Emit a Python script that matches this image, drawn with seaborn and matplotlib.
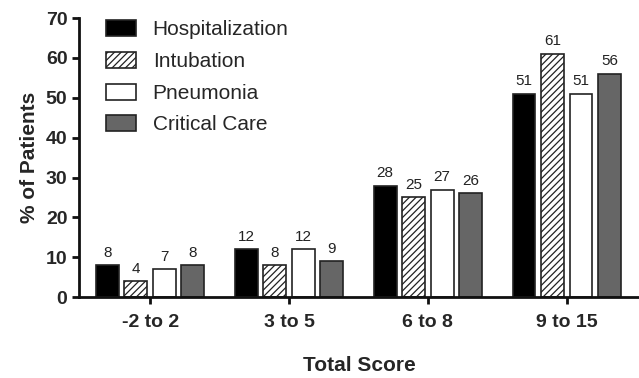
import seaborn as sns
import matplotlib.pyplot as plt
import pandas as pd

groups = ['-2 to 2', '3 to 5', '6 to 8', '9 to 15']
series = ['Hospitalization', 'Intubation', 'Pneumonia', 'Critical Care']
hospitalization = [8, 12, 28, 51]
intubation = [4, 8, 25, 61]
pneumonia = [7, 12, 27, 51]
critical_care = [8, 9, 26, 56]

rows = []
for name, vals in zip(series, [hospitalization, intubation, pneumonia, critical_care]):
    for g, v in zip(groups, vals):
        rows.append({'group': g, 'series': name, 'pct': v})
df = pd.DataFrame(rows)

sns.set_style('ticks')
plt.rcParams['font.family'] = ['Liberation Sans', 'DejaVu Sans']
plt.rcParams['hatch.linewidth'] = 0.9

fig = plt.figure(figsize=(6.39, 3.78), dpi=100)
ax = fig.add_axes([0.124, 0.214, 0.876, 0.738])

colors = ['#000000', '#ffffff', '#ffffff', '#666666']
ax = sns.barplot(data=df, x='group', y='pct', hue='series', hue_order=series,
                 palette=colors, width=0.82, gap=0.2, edgecolor='#222222',
                 linewidth=1.2, ax=ax, legend=False)

for c in ax.containers[1]:
    c.set_hatch('/////')

for cont in ax.containers:
    ax.bar_label(cont, fmt='%d', padding=4, fontsize=11, color='#222222')

handles = [ax.containers[i][0] for i in range(4)]
ax.legend(handles, series, loc='upper left', bbox_to_anchor=(0.014, 1.06),
          frameon=False, fontsize=15, handlelength=1.45, handleheight=0.8,
          labelspacing=0.6, handletextpad=0.8)

ax.set_xlim(-0.51, 3.52)
ax.set_ylim(0, 70)
ax.set_yticks(range(0, 71, 10))
sns.despine(ax=ax)
for s in ['left', 'bottom']:
    ax.spines[s].set_linewidth(2)
    ax.spines[s].set_color('#111111')
ax.tick_params(width=2, length=5, color='#111111')
ax.tick_params(axis='x', pad=7)
for lbl in ax.get_xticklabels() + ax.get_yticklabels():
    lbl.set_fontweight('bold')
    lbl.set_fontsize(14)

ax.set_xlabel('Total Score', fontsize=15, fontweight='bold', labelpad=18)
ax.set_ylabel('% of Patients', fontsize=15, fontweight='bold', labelpad=5)

plt.savefig('out.png', dpi=100)
